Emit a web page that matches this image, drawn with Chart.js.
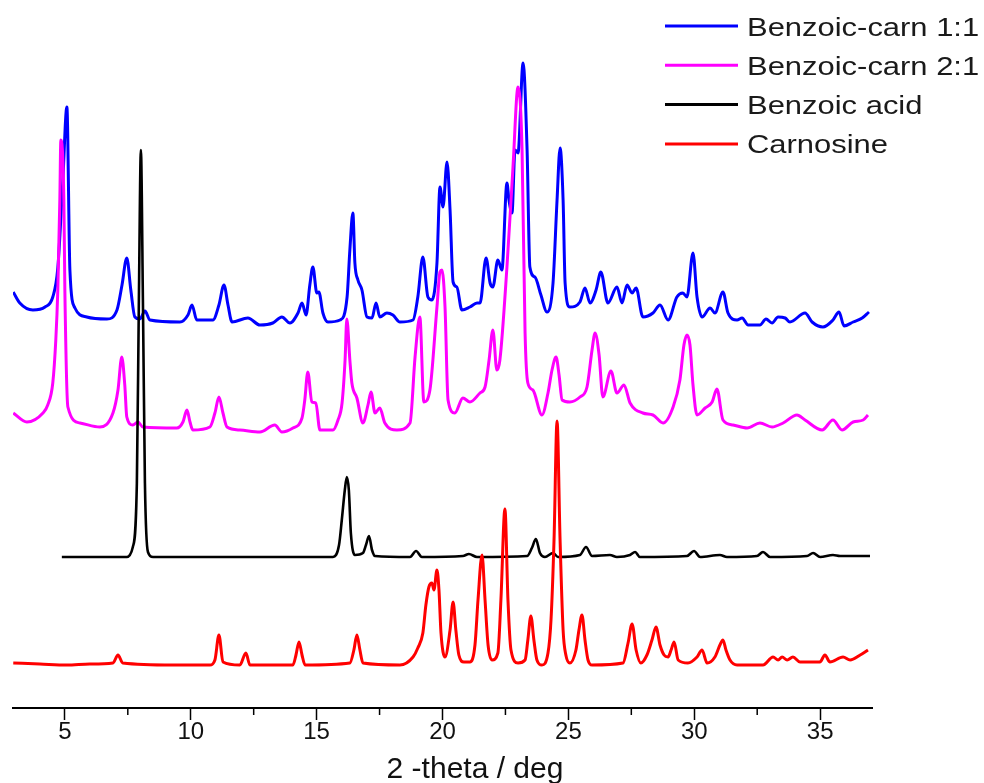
<!DOCTYPE html>
<html>
<head>
<meta charset="utf-8">
<title>XRD patterns</title>
<script src="https://cdn.jsdelivr.net/npm/chart.js@4.4.1/dist/chart.umd.min.js"></script>
<style>
  html, body { margin: 0; padding: 0; background: #fff; }
  #wrap { width: 984px; height: 783px; }
</style>
</head>
<body>
<div id="wrap"><canvas id="xrd" width="984" height="783"></canvas></div>
<script>
// Axis ticks (2-theta, deg)
const tickValues = [5, 10, 15, 20, 25, 30, 35];
const minorTickValues = [7.5, 12.5, 17.5, 22.5, 27.5, 32.5];
const xTitle = '2 -theta / deg';

// Benzoic-carn 1:1 (offset trace, intensity a.u.)
const theta11 = [2.95, 3.21, 3.73, 4.21, 4.52, 4.72, 4.92, 5.08, 5.20, 5.40, 5.87, 6.67, 7.07, 7.27, 7.46, 7.62, 7.78, 7.98, 8.18, 8.38,
  9.57, 9.89, 10.05, 10.24, 10.88, 11.12, 11.32, 11.48, 11.64, 12.27, 12.75, 13.26, 13.62, 13.94, 14.26, 14.42, 14.58, 14.73, 14.85, 15.01,
  15.09, 15.25, 15.45, 15.93, 16.21, 16.32, 16.44, 16.52, 16.64, 16.80, 17.00, 17.20, 17.36, 17.51, 17.79, 18.03, 18.31, 18.83, 19.02, 19.22,
  19.42, 19.58, 19.78, 19.90, 20.02, 20.18, 20.30, 20.42, 20.57, 20.77, 21.09, 21.37, 21.49, 21.73, 21.89, 22.00, 22.20, 22.36, 22.56, 22.64,
  22.76, 22.88, 23.00, 23.20, 23.36, 23.47, 23.67, 23.91, 24.15, 24.39, 24.55, 24.67, 24.79, 24.87, 25.06, 25.46, 25.66, 25.86, 26.10, 26.29,
  26.57, 26.93, 27.13, 27.33, 27.53, 27.69, 27.96, 28.36, 28.64, 28.96, 29.31, 29.55, 29.71, 29.95, 30.11, 30.31, 30.63, 30.82, 31.14, 31.34,
  31.70, 31.90, 32.14, 32.61, 32.85, 33.09, 33.33, 33.61, 33.80, 34.40, 34.68, 35.11, 35.51, 35.75, 35.95, 36.31, 36.67, 36.94];
const int11 = [416, 405, 398, 401, 411, 440, 528, 601, 438, 400, 391, 389, 398, 423, 450, 418, 391, 389, 397, 388,
  386, 393, 403, 388, 388, 403, 423, 403, 386, 390, 383, 385, 391, 385, 395, 405, 393, 423, 441, 415,
  416, 395, 386, 388, 411, 458, 495, 445, 428, 418, 391, 390, 405, 391, 395, 393, 386, 388, 411, 451,
  411, 408, 445, 521, 501, 546, 498, 426, 421, 398, 401, 405, 405, 450, 425, 421, 448, 438, 525, 508,
  495, 558, 555, 645, 558, 441, 431, 413, 396, 425, 508, 560, 508, 425, 401, 406, 420, 405, 418, 436,
  405, 421, 405, 423, 415, 420, 391, 395, 403, 388, 411, 415, 411, 455, 411, 391, 400, 395, 416, 395,
  388, 390, 383, 383, 389, 385, 391, 390, 386, 395, 386, 381, 388, 396, 382, 386, 390, 396];

// Benzoic-carn 2:1
const theta21 = [2.95, 3.49, 4.13, 4.32, 4.52, 4.64, 4.72, 4.80, 4.84, 4.96, 5.00, 5.12, 5.60, 6.39, 6.91, 7.11, 7.26, 7.38, 7.46, 7.70,
  7.90, 8.10, 9.45, 9.69, 9.85, 9.97, 10.08, 10.76, 10.96, 11.12, 11.28, 11.44, 11.95, 12.75, 13.34, 13.62, 14.06, 14.42, 14.53, 14.65,
  14.81, 14.97, 15.13, 15.65, 15.85, 16.01, 16.13, 16.20, 16.32, 16.40, 16.60, 16.84, 17.04, 17.16, 17.32, 17.51, 17.71, 18.19, 18.71, 18.91,
  19.10, 19.26, 19.50, 19.78, 19.90, 19.98, 20.10, 20.22, 20.49, 20.81, 21.09, 21.49, 21.69, 21.85, 22.00, 22.16, 22.28, 22.56, 22.80, 23.00,
  23.16, 23.28, 23.39, 23.59, 23.95, 24.19, 24.35, 24.51, 24.63, 24.75, 25.06, 25.46, 25.74, 25.94, 26.06, 26.22, 26.37, 26.69, 26.93, 27.21,
  27.45, 27.96, 28.36, 28.76, 29.16, 29.43, 29.59, 29.71, 29.83, 29.95, 30.11, 30.43, 30.71, 30.90, 31.14, 31.54, 32.10, 32.61, 33.09, 33.53,
  34.08, 34.40, 35.08, 35.51, 35.87, 36.31, 36.71, 36.90];
const int21 = [295, 286, 295, 303, 325, 368, 418, 508, 568, 508, 418, 301, 285, 281, 295, 318, 351, 323, 291, 283,
  286, 281, 280, 286, 298, 286, 278, 281, 295, 311, 295, 281, 278, 276, 283, 276, 280, 290, 308, 336,
  306, 305, 278, 278, 288, 305, 348, 389, 348, 325, 310, 285, 303, 316, 295, 300, 285, 278, 285, 351,
  391, 306, 318, 401, 436, 438, 401, 308, 295, 310, 306, 315, 321, 348, 378, 338, 348, 441, 541, 621,
  558, 375, 325, 318, 293, 315, 338, 351, 333, 308, 306, 311, 321, 358, 375, 353, 311, 337, 315, 323,
  305, 295, 293, 285, 301, 328, 363, 373, 363, 323, 293, 300, 306, 319, 288, 283, 280, 285, 281, 285,
  293, 288, 278, 288, 278, 286, 288, 293];

// Benzoic acid
const thetaBA = [4.88, 7.46, 7.70, 7.86, 7.94, 8.02, 8.10, 8.18, 8.30, 8.50, 15.65, 15.89, 16.00, 16.12, 16.20, 16.28, 16.36, 16.52, 16.84, 16.96,
  17.08, 17.20, 17.32, 18.71, 18.95, 19.18, 20.81, 21.05, 21.37, 23.36, 23.55, 23.71, 23.87, 24.07, 24.39, 24.59, 25.46, 25.70, 25.94, 26.65,
  26.93, 27.45, 27.65, 27.84, 29.71, 29.99, 30.23, 31.02, 31.30, 32.49, 32.73, 33.01, 34.48, 34.72, 35.00, 35.51, 35.79, 36.98];
const intBA = [151, 151, 161, 225, 408, 558, 408, 225, 156, 151, 151, 163, 188, 218, 231, 218, 175, 153, 155, 163,
  172, 158, 152, 151, 157, 151, 152, 154, 151, 152, 160, 169, 155, 151, 155, 151, 153, 161, 152, 153,
  151, 153, 156, 151, 152, 157, 151, 153, 151, 152, 156, 151, 152, 155, 151, 153, 152, 152];

// Carnosine
const thetaCar = [2.95, 4.01, 5.08, 5.99, 6.91, 7.11, 7.30, 9.29, 10.76, 10.96, 11.12, 11.28, 11.95, 12.19, 12.35, 14.06, 14.18, 14.30, 14.42, 14.54,
  16.32, 16.48, 16.60, 16.72, 16.84, 18.31, 18.83, 19.02, 19.22, 19.34, 19.46, 19.58, 19.66, 19.78, 19.86, 19.94, 20.10, 20.30, 20.42, 20.53,
  20.65, 20.85, 21.09, 21.29, 21.41, 21.57, 21.69, 21.81, 21.97, 22.20, 22.32, 22.48, 22.60, 22.72, 23.00, 23.28, 23.39, 23.51, 23.63, 23.75,
  23.95, 24.19, 24.31, 24.43, 24.55, 24.67, 24.79, 24.90, 25.06, 25.30, 25.42, 25.54, 25.66, 25.78, 25.94, 27.17, 27.37, 27.53, 27.69, 27.88,
  28.12, 28.32, 28.48, 28.64, 28.80, 28.96, 29.08, 29.20, 29.36, 29.75, 30.11, 30.31, 30.51, 30.82, 31.02, 31.14, 31.26, 31.42, 31.70, 32.73,
  33.13, 33.33, 33.49, 33.69, 33.92, 34.20, 34.99, 35.19, 35.39, 35.91, 36.19, 36.59, 36.90];
const intCar = [45, 44, 43, 44, 45, 53, 45, 43, 43, 48, 73, 46, 43, 55, 43, 43, 53, 66, 53, 43,
  45, 58, 73, 58, 45, 43, 51, 60, 75, 103, 121, 125, 118, 138, 118, 75, 51, 78, 106, 78,
  53, 46, 46, 63, 108, 153, 108, 63, 48, 55, 108, 199, 108, 58, 45, 48, 68, 92, 68, 48,
  43, 55, 88, 168, 287, 168, 78, 53, 45, 58, 78, 93, 68, 48, 43, 45, 65, 84, 58, 45,
  53, 68, 81, 63, 53, 51, 58, 66, 48, 45, 51, 58, 45, 51, 63, 68, 58, 48, 43, 43,
  51, 48, 51, 48, 51, 46, 46, 53, 46, 51, 48, 53, 58];

const labels = ['Benzoic-carn 1:1', 'Benzoic-carn 2:1', 'Benzoic acid', 'Carnosine'];
const colors = ['#0000ff', '#ff00ff', '#000000', '#ff0000'];

function toPoints(xs, ys) {
  return xs.map((x, i) => ({ x: x, y: ys[i] }));
}

// legend in the upper right corner, drawn over the plot
const cornerLegend = {
  id: 'cornerLegend',
  afterDraw(chart) {
    const ctx = chart.ctx;
    ctx.save();
    chart.data.datasets.forEach((ds, i) => {
      const y = 26 + i * 39.3;
      ctx.strokeStyle = ds.borderColor;
      ctx.lineWidth = 3;
      ctx.beginPath();
      ctx.moveTo(665, y);
      ctx.lineTo(738, y);
      ctx.stroke();
      ctx.save();
      ctx.translate(747, y + 9.5);
      ctx.scale(1.19, 1);
      ctx.fillStyle = '#1a1a1a';
      ctx.font = '26px "Liberation Sans", Arial, sans-serif';
      ctx.textBaseline = 'alphabetic';
      ctx.fillText(ds.label, 0, 0);
      ctx.restore();
    });
    ctx.restore();
  }
};

// short minor ticks + axis title (sits a bit right of centre in the original)
const axisExtras = {
  id: 'axisExtras',
  afterDraw(chart) {
    const sx = chart.scales.x;
    const ctx = chart.ctx;
    ctx.save();
    ctx.strokeStyle = '#000';
    ctx.lineWidth = 1.5;
    minorTickValues.forEach(v => {
      const px = sx.getPixelForValue(v);
      ctx.beginPath();
      ctx.moveTo(px, sx.top);
      ctx.lineTo(px, sx.top + 7);
      ctx.stroke();
    });
    ctx.fillStyle = '#111';
    ctx.font = '30px "Liberation Sans", Arial, sans-serif';
    ctx.textAlign = 'center';
    ctx.textBaseline = 'alphabetic';
    ctx.fillText(xTitle, 475, 778);
    ctx.restore();
  }
};

const datasets = [
  [theta11, int11],
  [theta21, int21],
  [thetaBA, intBA],
  [thetaCar, intCar]
].map((d, i) => ({
  label: labels[i],
  data: toPoints(d[0], d[1]),
  borderColor: colors[i],
  backgroundColor: colors[i],
  borderWidth: i === 2 ? 2.6 : 3,
  pointRadius: 0,
  cubicInterpolationMode: 'monotone',
  showLine: true,
  order: 4 - i
}));

new Chart(document.getElementById('xrd'), {
  type: 'scatter',
  data: { datasets: datasets },
  options: {
    responsive: false,
    animation: false,
    layout: { padding: { left: 13, right: 112, top: 0, bottom: 0 } },
    plugins: {
      legend: { display: false },
      tooltip: { enabled: false }
    },
    scales: {
      x: {
        type: 'linear',
        min: 2.94,
        max: 37.06,
        afterBuildTicks: (scale) => { scale.ticks = tickValues.map(v => ({ value: v })); },
        afterFit: (scale) => { scale.height = 75; },
        border: { display: true, color: '#000', width: 2 },
        grid: { drawOnChartArea: false, drawTicks: true, tickLength: 12, tickColor: '#000', tickWidth: 1.5 },
        ticks: {
          color: '#111',
          padding: -2,
          maxRotation: 0,
          font: { family: '"Liberation Sans", Arial, sans-serif', size: 24 }
        },
        title: { display: false }
      },
      y: {
        display: false,
        min: 0,
        max: 708
      }
    }
  },
  plugins: [cornerLegend, axisExtras]
});
</script>
</body>
</html>
